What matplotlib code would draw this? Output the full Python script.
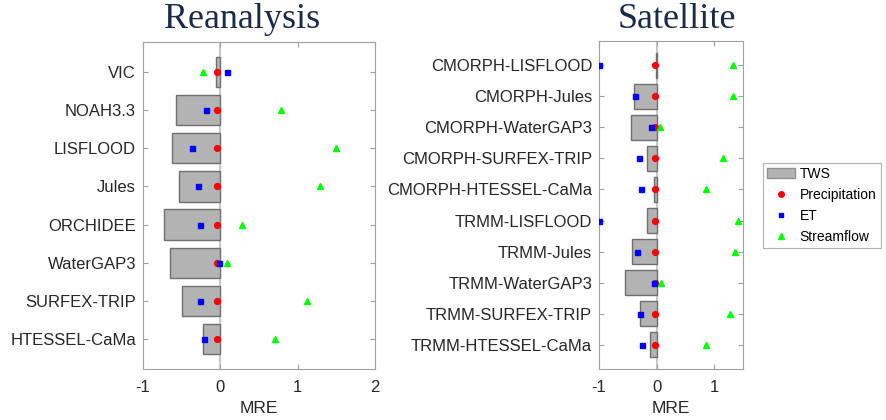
import matplotlib.pyplot as plt
from matplotlib.patches import Patch
from matplotlib.lines import Line2D

plt.rcParams['font.family'] = ['Liberation Sans', 'DejaVu Sans']

# reanalysis-driven models
rea_names = ['VIC', 'NOAH3.3', 'LISFLOOD', 'Jules', 'ORCHIDEE', 'WaterGAP3',
             'SURFEX-TRIP', 'HTESSEL-CaMa']
rea_tws = [-0.06, -0.57, -0.62, -0.54, -0.73, -0.65, -0.49, -0.22]
rea_pre = [-0.04, -0.04, -0.04, -0.04, -0.04, -0.04, -0.04, -0.04]
rea_et = [0.09, -0.19, -0.37, -0.29, -0.26, -0.02, -0.26, -0.21]
rea_q = [-0.23, 0.79, 1.50, 1.29, 0.28, 0.09, 1.12, 0.71]

# satellite-forced models
sat_names = ['CMORPH-LISFLOOD', 'CMORPH-Jules', 'CMORPH-WaterGAP3',
             'CMORPH-SURFEX-TRIP', 'CMORPH-HTESSEL-CaMa', 'TRMM-LISFLOOD',
             'TRMM-Jules', 'TRMM-WaterGAP3', 'TRMM-SURFEX-TRIP', 'TRMM-HTESSEL-CaMa']
sat_tws = [-0.01, -0.39, -0.45, -0.16, -0.04, -0.16, -0.42, -0.55, -0.28, -0.11]
sat_pre = [-0.03, -0.03, -0.03, -0.03, -0.03, -0.03, -0.03, -0.03, -0.03, -0.03]
sat_et = [-1.0, -0.37, -0.09, -0.31, -0.27, -1.0, -0.34, -0.04, -0.29, -0.25]
sat_q = [1.32, 1.32, 0.06, 1.16, 0.85, 1.41, 1.36, 0.08, 1.27, 0.85]

frame = '#a0a0a0'


def panel(ax, names, tws, pre, et, q, xlim, xticks):
    y = list(range(1, len(names) + 1))
    ax.axvline(0, color='#c8c8c8', lw=1.5, zorder=1)
    ax.barh(y, tws, height=0.8, color='#b3b3b3', edgecolor='#707070',
            lw=1, zorder=2)
    ax.plot(pre, y, 'o', color='red', ms=4.2, zorder=4)
    ax.plot(et, y, 's', color='blue', ms=3.6, zorder=4)
    ax.plot(q, y, '^', color='#00ff00', ms=4.4, zorder=4)
    ax.set_yticks(y)
    ax.set_yticklabels(names, fontsize=12, color='#262626')
    ax.set_ylim(len(names) + 0.78, 0.22)
    ax.set_xlim(*xlim)
    ax.set_xticks(xticks)
    ax.set_xticklabels([str(t) for t in xticks], fontsize=12, color='#262626')
    ax.tick_params(direction='in', length=3.5, color=frame, top=True,
                   right=True, pad=5)
    ax.tick_params(axis='x', pad=8)
    for s in ax.spines.values():
        s.set_color(frame)
    ax.set_xlabel('MRE', fontsize=12.5, color='#262626', labelpad=4)


fig = plt.figure(figsize=(8.86, 4.2), dpi=100)
ax1 = fig.add_axes([143 / 886, 51 / 420, 232 / 886, 327 / 420])
ax2 = fig.add_axes([599 / 886, 51 / 420, 144 / 886, 328 / 420])

panel(ax1, rea_names, rea_tws, rea_pre, rea_et, rea_q, (-1, 2), [-1, 0, 1, 2])
panel(ax2, sat_names, sat_tws, sat_pre, sat_et, sat_q, (-1, 1.5), [-1, 0, 1])

fig.text(242 / 886, 1 - 28 / 420, 'Reanalysis', ha='center', va='baseline',
         family='Liberation Serif', fontsize=26, color='#1b2a48')
fig.text(677 / 886, 1 - 28 / 420, 'Satellite', ha='center', va='baseline',
         family='Liberation Serif', fontsize=26, color='#1b2a48')

handles = [
    Patch(facecolor='#b3b3b3', edgecolor='#909090', label='TWS'),
    Line2D([], [], ls='', marker='o', color='red', ms=4, label='Precipitation'),
    Line2D([], [], ls='', marker='s', color='blue', ms=3.5, label='ET'),
    Line2D([], [], ls='', marker='^', color='#00ff00', ms=4, label='Streamflow'),
]
leg = fig.legend(handles=handles, loc='upper left',
                 bbox_to_anchor=(763 / 886, 1 - 163 / 420), fontsize=10,
                 frameon=True, fancybox=False, edgecolor=frame,
                 borderpad=0.3, labelspacing=0.5, handlelength=2.0,
                 handletextpad=0.35, borderaxespad=0)
leg.get_frame().set_linewidth(0.8)

fig.savefig('out.png', dpi=100)
